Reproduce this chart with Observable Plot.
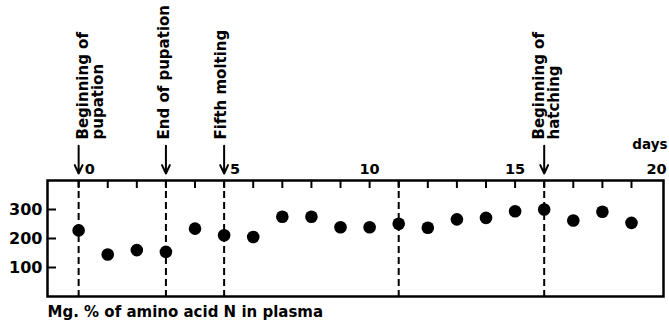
<!DOCTYPE html>
<html>
<head>
<meta charset="utf-8">
<script src="https://cdn.jsdelivr.net/npm/d3@7"></script>
<script src="https://cdn.jsdelivr.net/npm/@observablehq/plot@0.6"></script>
<style>
  html, body { margin: 0; padding: 0; background: #fff; }
</style>
</head>
<body>
<div id="chart"></div>
<script>
// Days counted from the beginning of pupation
const days = [0, 1, 2, 3, 4, 5, 6, 7, 8, 9, 10, 11, 12, 13, 14, 15, 16, 17, 18, 19];
// Amino acid N in plasma, mg. %
const aminoN = [228, 145, 160, 154, 234, 211, 205, 275, 275, 239, 239, 251, 237, 266, 271, 294, 300, 262, 292, 254];

// Stages of development marked by dashed lines
const stageDays = [0, 3, 5, 11, 16];
// Stages that carry a label and an arrow
const eventDays = [0, 3, 5, 16];
const eventLabels = ["Beginning of\npupation", "End of pupation", "Fifth molting", "Beginning of\nhatching"];

// Axis tick labels
const xTickLabels = [0, 5, 10, 15, 20];
const yTickLabels = [100, 200, 300];
const dayTicks = d3.range(0, 20);

const xLabel = "days";
const yLabel = "Mg. % of amino acid N in plasma";

const points = days.map((d, i) => ({day: d, value: aminoN[i]}));
const events = eventDays.map((d, i) => ({day: d, label: eventLabels[i]}));

// Horizontal nudges (px) so each stage label sits beside its arrow
const labelNudge = {
  "Beginning of\npupation": 12,
  "End of pupation": -2,
  "Fifth molting": -3,
  "Beginning of\nhatching": 2
};

const W = 669, H = 320;
const mTop = 180, mBottom = 24, mLeft = 47, mRight = 6;
const frameW = W - mLeft - mRight;
const frameH = H - mTop - mBottom;
const yTop = 400;
const xDomain = [-1.07, 20.1];
// arrow extent above the frame, in the y scale's units
const arrowStart = 520, arrowEnd = 424;
const arrowDays = new Set(eventDays);
const lastTick = xTickLabels[xTickLabels.length - 1];

const tickText = {frameAnchor: "top", dy: -7, lineAnchor: "bottom", fontSize: 14.5, fontWeight: "bold"};

const chart = Plot.plot({
  width: W,
  height: H,
  marginTop: mTop,
  marginBottom: mBottom,
  marginLeft: mLeft,
  marginRight: mRight,
  style: {fontFamily: "'DejaVu Sans', sans-serif", background: "#fff", color: "#000"},
  x: {domain: xDomain, axis: null},
  y: {domain: [0, yTop], axis: null},
  marks: [
    // inward day ticks from the top edge
    Plot.tickX(dayTicks, {x: d => d, insetBottom: frameH - 8, strokeWidth: 2}),
    // inward value ticks from the left edge
    Plot.tickY(yTickLabels, {y: d => d, insetRight: frameW - 9, strokeWidth: 2}),
    // stage boundaries
    Plot.ruleX(stageDays, {x: d => d, strokeWidth: 2, strokeDasharray: "7,4"}),
    Plot.frame({strokeWidth: 2.5}),
    Plot.dot(points, {x: "day", y: "value", r: 6.3, fill: "#000", stroke: null}),
    // day labels above the frame: centred, beside an arrow, or flush with the right edge
    Plot.text(xTickLabels.filter(d => !arrowDays.has(d) && d !== lastTick), {
      x: d => d, text: d => String(d), ...tickText
    }),
    Plot.text(xTickLabels.filter(d => arrowDays.has(d)), {
      x: d => d, text: d => String(d), ...tickText, dx: 6, textAnchor: "start"
    }),
    Plot.text([lastTick], {
      x: d => d, text: d => String(d), ...tickText, dx: 6, textAnchor: "end"
    }),
    // value labels left of the frame
    Plot.text(yTickLabels, {
      y: d => d, text: d => String(d), frameAnchor: "left", dx: -5,
      textAnchor: "end", fontSize: 16, fontWeight: "bold"
    }),
    // stage arrows and labels
    Plot.arrow(events, {
      x: "day", y1: arrowStart, y2: arrowEnd, strokeWidth: 2,
      headLength: 10, headAngle: 50
    }),
    ...events.map(e => Plot.text([e], {
      x: "day", text: "label", frameAnchor: "top", dy: -41, dx: labelNudge[e.label],
      rotate: -90, textAnchor: "start", lineAnchor: "middle", lineHeight: 1,
      fontSize: 15, fontWeight: "bold"
    })),
    // axis titles
    Plot.text([xLabel], {
      frameAnchor: "top-right", dy: -32, dx: 4, textAnchor: "end",
      lineAnchor: "bottom", fontSize: 13.5, fontWeight: "bold"
    }),
    Plot.text([yLabel], {
      frameAnchor: "bottom-left", dy: 20, textAnchor: "start",
      lineAnchor: "bottom", fontSize: 15, fontWeight: "bold"
    })
  ]
});

document.getElementById("chart").appendChild(chart);
</script>
</body>
</html>
